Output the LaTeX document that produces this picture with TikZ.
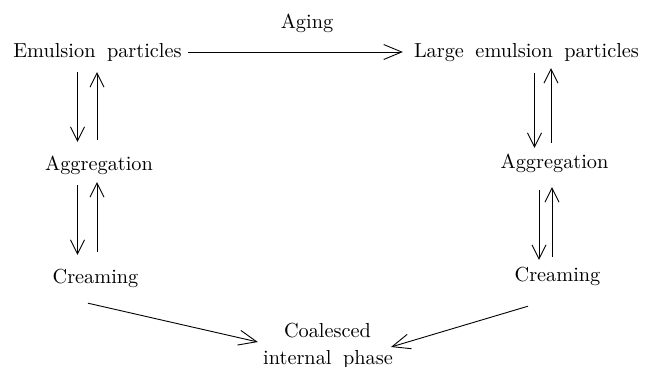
\documentclass[tikz,border=0pt]{standalone}
\usepackage{fontspec}
\setmainfont{lmroman10-regular.otf}[WordSpace=1.7]
\usetikzlibrary{arrows.meta}
\tikzset{
  lbl/.style={inner sep=0pt, text height=14pt, text depth=4pt, font=\fontsize{20.3}{24}\selectfont},
  arr/.style={line width=0.9pt, -{Straight Barb[length=14pt,width=14pt,line width=0.9pt]}},
  longarr/.style={line width=0.9pt, -{Straight Barb[length=18pt,width=15pt,line width=0.9pt]}}
}
\begin{document}
\begin{tikzpicture}[x=1pt,y=-1pt]
\useasboundingbox (0,0) rectangle (657,367);
% nodes
\node[lbl] (aging) at (307,23) {Aging};
\node[lbl] (ep) at (97.5,52) {Emulsion particles};
\node[lbl] (lep) at (526.5,52) {Large emulsion particles};
\node[lbl] (agg1) at (99,165) {Aggregation};
\node[lbl] (agg2) at (554.5,163) {Aggregation};
\node[lbl] (cr1) at (95.5,278) {Creaming};
\node[lbl] (cr2) at (557.5,276) {Creaming};
\node[lbl] (coal) at (327.5,332) {Coalesced};
\node[lbl] (intp) at (328,359) {internal phase};
% column coordinates
\coordinate (LD) at (77.5,0);
\coordinate (LU) at (97,0);
\coordinate (RD1) at (534.5,0);
\coordinate (RU1) at (551,0);
\coordinate (RD2) at (539,0);
\coordinate (RU2) at (552,0);
% top horizontal
\draw[longarr, shorten <=6pt, shorten >=11pt] (ep.east) -- (lep.west);
% left column
\draw[arr, shorten <=11pt, shorten >=14pt] (ep.south -| LD) -- (agg1.north -| LD);
\draw[arr, shorten <=16pt, shorten >=11pt] (agg1.north -| LU) -- (ep.south -| LU);
\draw[arr, shorten <=11pt, shorten >=14pt] (agg1.south -| LD) -- (cr1.north -| LD);
\draw[arr, shorten <=17pt, shorten >=8pt] (cr1.north -| LU) -- (agg1.south -| LU);
% right column
\draw[arr, shorten <=12pt, shorten >=6pt] (lep.south -| RD1) -- (agg2.north -| RD1);
\draw[arr, shorten <=11pt, shorten >=7pt] (agg2.north -| RU1) -- (lep.south -| RU1);
\draw[arr, shorten <=18pt, shorten >=7pt] (agg2.south -| RD2) -- (cr2.north -| RD2);
\draw[arr, shorten <=10pt, shorten >=15pt] (cr2.north -| RU2) -- (agg2.south -| RU2);
% diagonals
\draw[longarr] ([xshift=-7.5pt,yshift=-16pt]cr1.south) -- ([xshift=-26pt,yshift=-10pt]coal.west);
\draw[longarr] ([xshift=-29.5pt,yshift=-21pt]cr2.south) -- ([xshift=-2pt,yshift=12pt]intp.east);
\end{tikzpicture}
\end{document}
